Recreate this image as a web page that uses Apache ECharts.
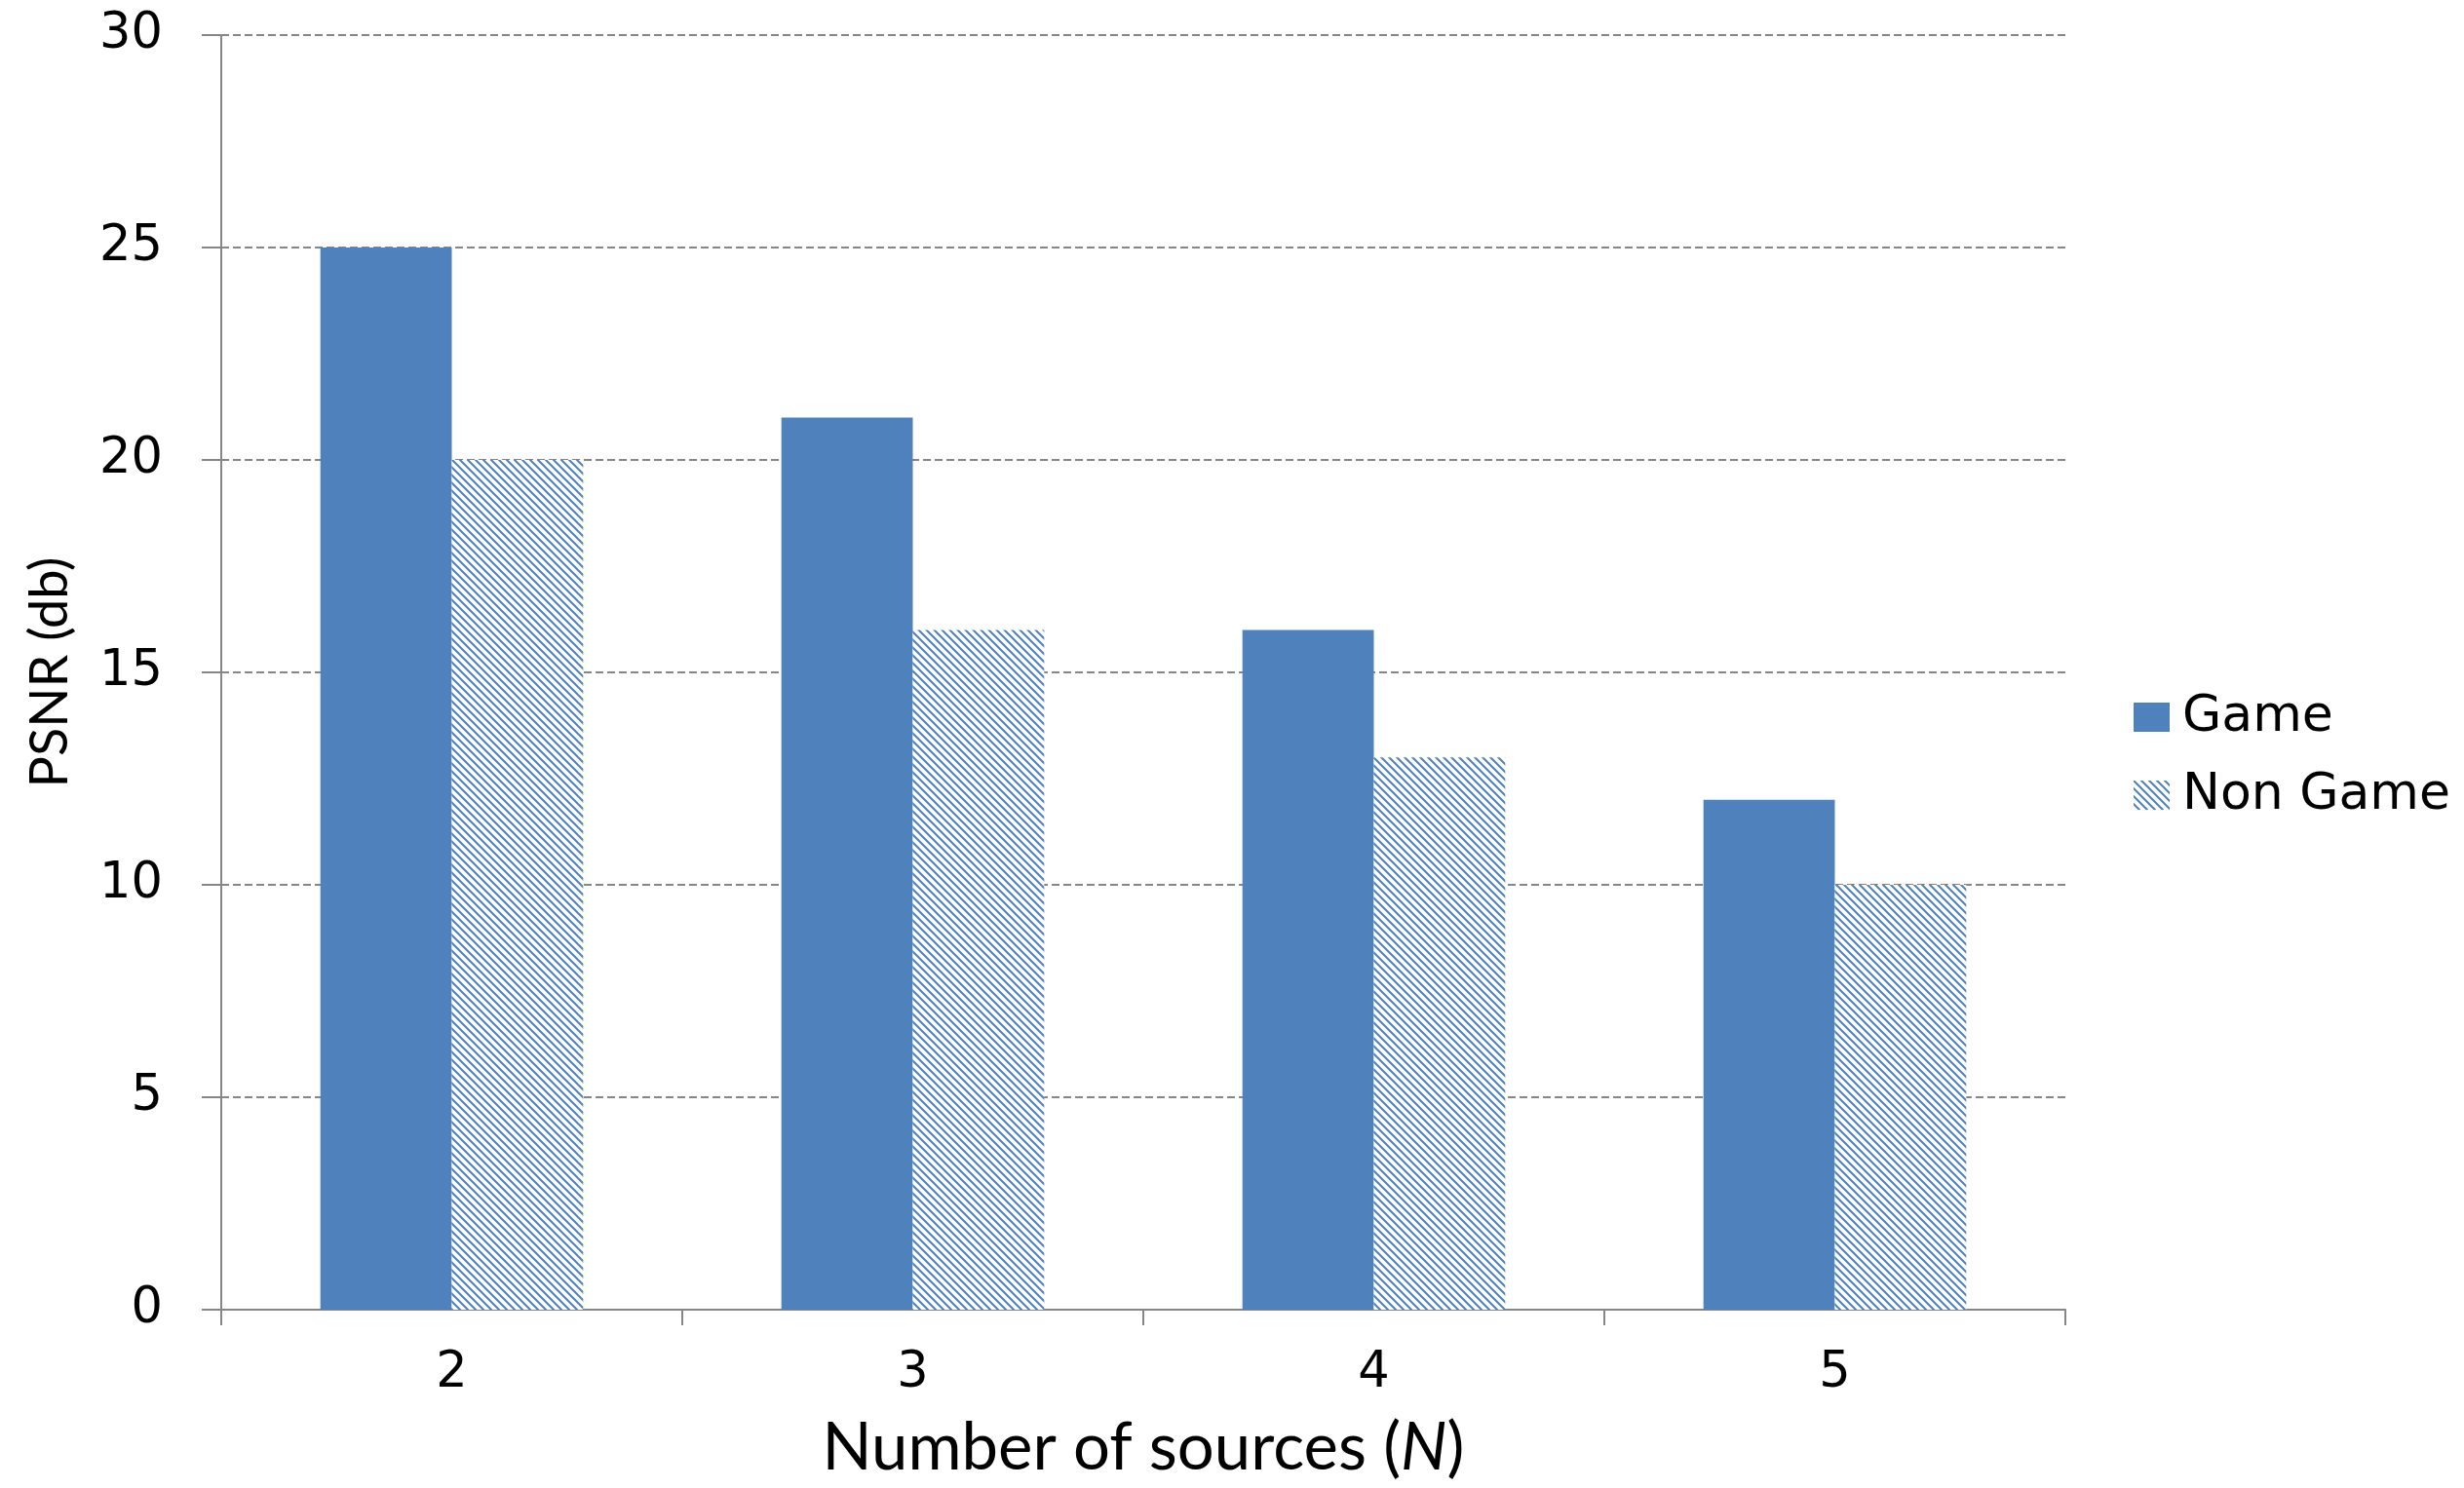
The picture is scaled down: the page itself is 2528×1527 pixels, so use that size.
<!DOCTYPE html>
<html>
<head>
<meta charset="utf-8">
<script src="https://cdn.jsdelivr.net/npm/echarts@6/dist/echarts.min.js"></script>
<style>
html,body{margin:0;padding:0;background:#fff;}
#chart{width:2528px;height:1527px;}
</style>
</head>
<body>
<div id="chart"></div>
<script>
const categories = ['2', '3', '4', '5'];
const gameValues = [25, 21, 16, 12];
const nonGameValues = [20, 16, 13, 10];
const seriesNames = ['Game', 'Non Game'];

function makeHatch(color) {
  const s = 8;
  const c = document.createElement('canvas');
  c.width = s; c.height = s;
  const ctx = c.getContext('2d');
  ctx.fillStyle = '#ffffff';
  ctx.fillRect(0, 0, s, s);
  ctx.strokeStyle = color;
  ctx.lineWidth = 2;
  ctx.lineCap = 'square';
  [[-s, 0], [0, 0], [s, 0]].forEach(([ox, oy]) => {
    ctx.beginPath();
    ctx.moveTo(ox - 1, oy - 1);
    ctx.lineTo(ox + s + 1, oy + s + 1);
    ctx.stroke();
  });
  return c;
}

const blue = '#4F81BD';
const axisGray = '#868686';
const chart = echarts.init(document.getElementById('chart'), null, {renderer: 'canvas'});

chart.setOption({
  backgroundColor: '#ffffff',
  animation: false,
  grid: {left: 227, right: 409, top: 36, bottom: 183, containLabel: false},
  legend: {
    orient: 'vertical',
    left: 2184,
    top: 705,
    icon: 'rect',
    itemWidth: 37,
    itemHeight: 30,
    itemGap: 28,
    textStyle: {fontFamily: 'DejaVu Sans', fontSize: 52, color: '#000', lineHeight: 52, padding: [0, 0, 0, 8]},
    data: seriesNames
  },
  xAxis: {
    type: 'category',
    data: categories,
    name: 'Number of sources ({i|N})',
    nameLocation: 'middle',
    nameGap: 109,
    nameTextStyle: {
      fontFamily: 'Lato', fontSize: 67, color: '#000',
      rich: {i: {fontFamily: 'Lato', fontSize: 67, fontStyle: 'italic', color: '#000'}}
    },
    axisLine: {show: true, lineStyle: {color: axisGray, width: 2}},
    axisTick: {show: true, length: 16, lineStyle: {color: axisGray, width: 2}},
    axisLabel: {fontFamily: 'DejaVu Sans', fontSize: 51, color: '#000', margin: 40},
    splitLine: {show: false}
  },
  yAxis: {
    type: 'value',
    min: 0, max: 30, interval: 5,
    name: 'PSNR (db)',
    nameLocation: 'middle',
    nameGap: 148,
    nameRotate: 90,
    nameTextStyle: {fontFamily: 'Lato', fontSize: 54, color: '#000'},
    axisLine: {show: true, lineStyle: {color: axisGray, width: 2}},
    axisTick: {show: true, length: 20, lineStyle: {color: axisGray, width: 2}},
    axisLabel: {fontFamily: 'DejaVu Sans', fontSize: 51, color: '#000', margin: 60},
    splitLine: {show: true, lineStyle: {color: axisGray, width: 2, type: [8, 4]}}
  },
  series: [
    {
      name: seriesNames[0], type: 'bar', data: gameValues,
      barCategoryGap: '43%', barGap: '0%',
      itemStyle: {color: blue}
    },
    {
      name: seriesNames[1], type: 'bar', data: nonGameValues,
      barCategoryGap: '43%', barGap: '0%',
      itemStyle: {color: {image: makeHatch(blue), repeat: 'repeat'}}
    }
  ]
});
</script>
</body>
</html>
